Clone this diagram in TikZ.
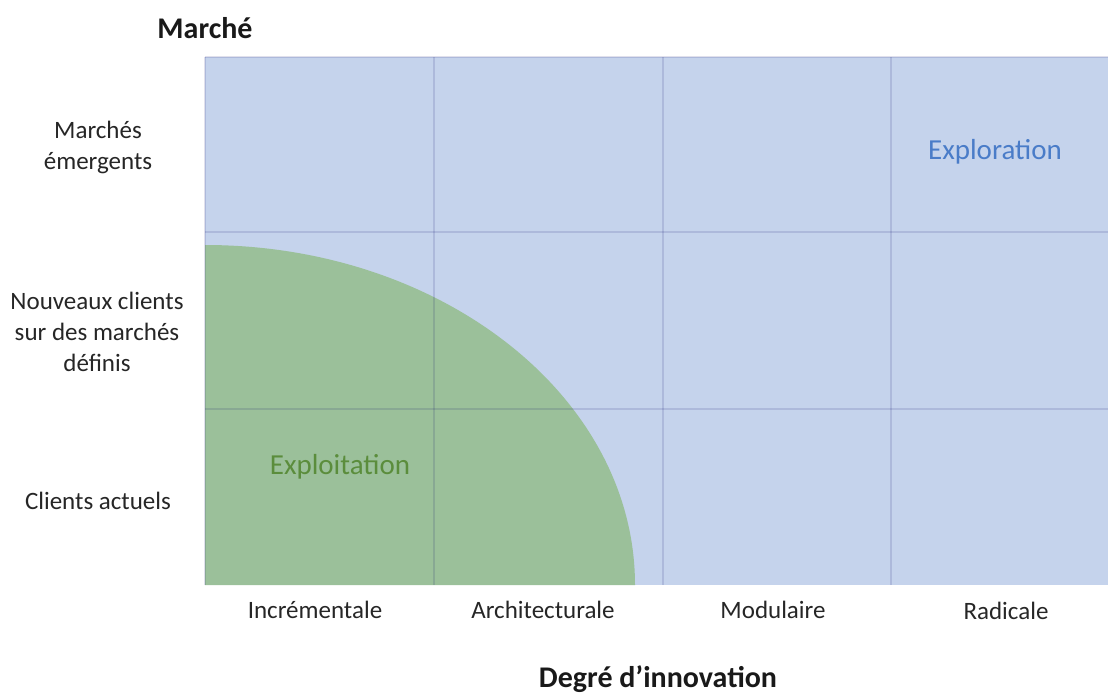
\documentclass[tikz,border=0pt]{standalone}
\usepackage{fontspec}
\setmainfont{Carlito}
\begin{document}
\begin{tikzpicture}[x=1pt,y=-1pt,
  lbl/.style={inner sep=0pt,align=center,font=\fontsize{25}{31}\selectfont,text=black!85},
  head/.style={inner sep=0pt,font=\fontsize{30}{34}\selectfont\bfseries,text=black!90},
  gridline/.style={draw=black!60!blue,draw opacity=0.12,line width=1.5pt}]
\definecolor{cellblue}{HTML}{C5D3EC}
\definecolor{exgreen}{HTML}{9BC09A}
\definecolor{txtblue}{HTML}{4A7CC8}
\definecolor{txtgreen}{HTML}{5B8D3C}
\useasboundingbox (0,0) rectangle (1108,693);
% grid background
\fill[cellblue] (205,57) rectangle (1108,585);
% exploitation quarter ellipse
\fill[exgreen] (205,585) -- (205,245) arc[start angle=270,end angle=360,x radius=430,y radius=340] -- cycle;
% grid lines
\foreach \x in {205,434,663,891} \draw[gridline] (\x,57) -- (\x,585);
\foreach \y in {57,232,409} \draw[gridline] (205,\y) -- (1108,\y);
% texts
\node[inner sep=0pt,font=\fontsize{29}{34}\selectfont,text=txtblue] (explo) at (995,152) {Exploration};
\node[inner sep=0pt,font=\fontsize{29}{34}\selectfont,text=txtgreen] (exploit) at (340,467) {Exploitation};
\node[head] (marche) at (205,28) {Marché};
\node[head] (degre) at (658,679) {Degré d’innovation};
\node[lbl] (r1) at (98,147) {Marchés\\émergents};
\node[lbl] (r2) at (97,332) {Nouveaux clients\\sur des marchés\\définis};
\node[lbl] (r3) at (98,501) {Clients actuels};
\node[lbl] (c1) at (315,610) {Incrémentale};
\node[lbl] (c2) at (543,610) {Architecturale};
\node[lbl] (c3) at (773,610) {Modulaire};
\node[lbl] (c4) at (1006,611) {Radicale};
\end{tikzpicture}
\end{document}
